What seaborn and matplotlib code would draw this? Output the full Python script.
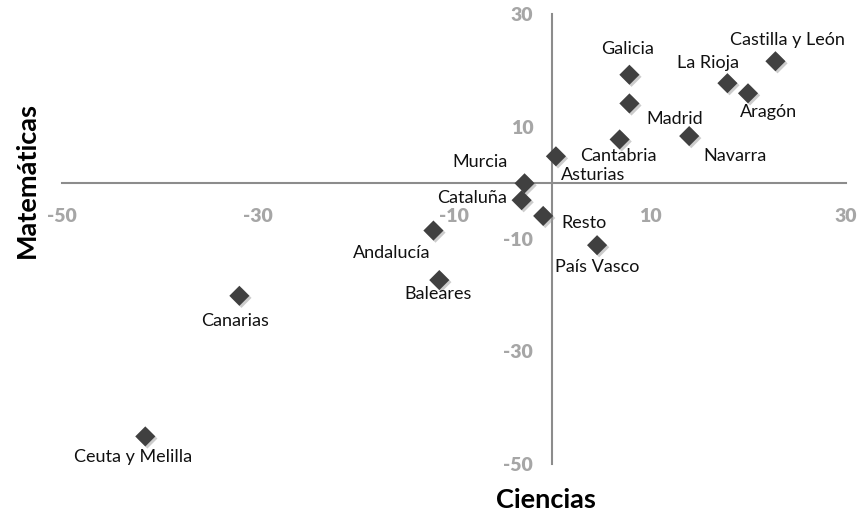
import pandas as pd
import matplotlib
matplotlib.use('Agg')
import matplotlib.pyplot as plt
import matplotlib.patheffects as pe
import seaborn as sns

# Data
regiones = ['Castilla y León', 'La Rioja', 'Aragón', 'Galicia', 'Madrid', 'Navarra',
            'Cantabria', 'Murcia', 'Asturias', 'Cataluña', 'Resto', 'País Vasco',
            'Andalucía', 'Baleares', 'Canarias', 'Ceuta y Melilla']
ciencias = [22.8, 17.9, 20.0, 7.9, 7.9, 14.0, 6.9, 0.4, -2.8, -3.1, -0.9, 4.6,
            -12.1, -11.5, -31.9, -41.5]
matematicas = [21.6, 17.7, 15.9, 19.2, 14.1, 8.3, 7.7, 4.7, -0.1, -3.1, -5.9, -11.1,
               -8.5, -17.3, -20.1, -45.1]
# label offsets in pixels (dx, dy) relative to each point
offsets = [(12, 21), (-19, 20), (21, -19), (-2, 26), (45, -16), (46, -20),
           (-1, -17), (-76, -6), (69, 8), (-50, 2), (41, -7), (0, -22),
           (-42, -22), (-1, -14), (-4, -25), (-12, -21)]
ticks = [-50, -30, -10, 10, 30]
tick_labels = ['-50', '-30', '-10', '10', '30']

df = pd.DataFrame({'Región': regiones, 'Ciencias': ciencias, 'Matemáticas': matematicas})

sns.set_style('white')
plt.rcParams['font.family'] = ['Lato', 'DejaVu Sans']
plt.rcParams['axes.unicode_minus'] = False

fig = plt.figure(figsize=(8.62, 5.16), dpi=100)
ax = fig.add_axes([62 / 862, 1 - 464 / 516, 784 / 862, 450 / 516])

sns.scatterplot(data=df, x='Ciencias', y='Matemáticas', marker='D', s=105,
                color='#404040', linewidth=0, ax=ax, zorder=3)
ax.collections[0].set_path_effects([
    pe.SimplePatchShadow(offset=(1.5, -1.5), shadow_rgbFace='#9a9a9a', alpha=0.5),
    pe.Normal()])

for name, x, y, (dx, dy) in zip(regiones, ciencias, matematicas, offsets):
    ax.annotate(name, (x, y), xytext=(dx, dy), textcoords='offset pixels',
                ha='center', va='center', fontsize=13, color='#111111')

ax.set_xlim(-50, 30)
ax.set_ylim(-50, 30)
ax.set_xticks(ticks)
ax.set_yticks(ticks)

axis_gray = '#8c8c8c'
for side in ['top', 'right']:
    ax.spines[side].set_visible(False)
ax.spines['left'].set_position(('data', 0))
ax.spines['bottom'].set_position(('data', 0))
for side in ['left', 'bottom']:
    ax.spines[side].set_color(axis_gray)
    ax.spines[side].set_linewidth(1.5)

ax.tick_params(axis='x', direction='out', length=4.5, width=1.2, color=axis_gray, pad=14)
ax.tick_params(axis='y', direction='out', length=4.5, width=1.2, color=axis_gray, pad=9)
ax.set_xticklabels(tick_labels, fontsize=14, fontweight='heavy', color='#a6a6a6')
ax.set_yticklabels(tick_labels, fontsize=14, fontweight='heavy', color='#a6a6a6')

ax.set_xlabel('')
ax.set_ylabel('')
fig.text(546 / 862, 1 - 500 / 516, 'Ciencias', ha='center', va='center',
         fontsize=19.5, fontweight='bold', color='black')
fig.text(27 / 862, 1 - 180 / 516, 'Matemáticas', ha='center', va='center',
         rotation=90, fontsize=19.5, fontweight='bold', color='black')

fig.savefig('out.png', dpi=100)
